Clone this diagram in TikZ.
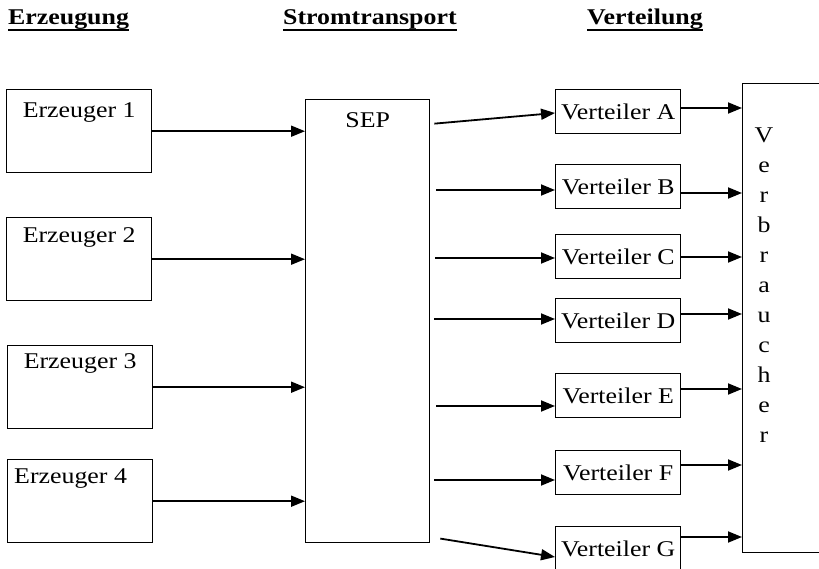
\documentclass[tikz,border=0pt]{standalone}
\usepackage{fontspec}
\setmainfont{Liberation Serif}[FakeStretch=1.15]
\usetikzlibrary{arrows.meta}

\begin{document}
\begin{tikzpicture}[x=1pt, y=-1pt,
    font=\fontsize{22.5}{26}\selectfont,
    >={Triangle[length=14pt,width=11pt]},
    kasten/.style={draw, line width=1.4pt, inner sep=0pt, anchor=north west},
    erzeuger/.style={kasten, minimum width=145pt, minimum height=83pt},
    verteiler/.style={kasten, minimum width=125pt, minimum height=44pt},
    titel/.style={anchor=base west, inner sep=0pt, font=\fontsize{22.5}{26}\selectfont\bfseries},
    every label/.style={inner sep=0pt}]
      \path[use as bounding box, clip] (0,0) rectangle (819,569);
      \node[titel] (t1) at (8,25) {Erzeugung};
      \node[titel] (t2) at (283,25) {Stromtransport};
      \node[titel] (t3) at (587,25) {Verteilung};
      \draw[line width=1.8pt]
        (t1.south west) -- (t1.south east)
        (t2.south west) -- (t2.south east)
        (t3.south west) -- (t3.south east);
      \node[erzeuger, label={[anchor=north, yshift=-13pt]north:Erzeuger 1}] (e1) at (6,89) {};
      \node[erzeuger, label={[anchor=north, yshift=-10pt]north:Erzeuger 2}] (e2) at (6,217) {};
      \node[erzeuger, label={[anchor=north, yshift=-8pt]north:Erzeuger 3}] (e3) at (7,345) {};
      \node[erzeuger, label={[anchor=north west, xshift=7pt, yshift=-9pt]north west:Erzeuger 4}] (e4) at (7,459) {};
      \node[kasten, minimum width=124pt, minimum height=443pt,
        label={[anchor=north, yshift=-13pt]north:SEP}] (sep) at (305,99) {};
      \node[verteiler] (vA) at (555,89) {Verteiler A};
      \node[verteiler] (vB) at (555,164) {Verteiler B};
      \node[verteiler] (vC) at (555,234) {Verteiler C};
      \node[verteiler] (vD) at (555,298) {Verteiler D};
      \node[verteiler] (vE) at (555,373) {Verteiler E};
      \node[verteiler] (vF) at (555,450) {Verteiler F};
      \node[verteiler] (vG) at (555,526) {Verteiler G};
      \node[kasten, minimum width=120pt, minimum height=469pt,
        label={[anchor=north, align=center, font=\fontsize{22.5}{30}\selectfont,
          xshift=22pt, yshift=-45pt]north west:V\\e\\r\\b\\r\\a\\u\\c\\h\\e\\r}] (verbr) at (742,83) {};
      \begin{scope}[->, line width=1.8pt]
        \draw (e1.east) -- (e1.east -| sep.west);
        \draw (e2.east) -- (e2.east -| sep.west);
        \draw (e3.east) -- (e3.east -| sep.west);
        \draw (e4.east) -- (e4.east -| sep.west);
        \draw[shorten <=4pt] (sep.east |- 0,124) -- (vA.west |- 0,113);
        \draw[shorten <=6pt] (sep.east |- 0,190) -- (vB.west |- 0,190);
        \draw[shorten <=5pt] (sep.east |- 0,258) -- (vC.west |- 0,258);
        \draw[shorten <=4pt] (sep.east |- 0,319) -- (vD.west |- 0,319);
        \draw[shorten <=6pt] (sep.east |- 0,406) -- (vE.west |- 0,406);
        \draw[shorten <=4pt] (sep.east |- 0,480) -- (vF.west |- 0,480);
        \draw[shorten <=10pt] (sep.east |- 0,537) -- (vG.west |- 0,557);
        \draw (vA.east |- 0,108) -- (verbr.west |- 0,108);
        \draw (vB.east |- 0,193) -- (verbr.west |- 0,193);
        \draw (vC.east |- 0,257) -- (verbr.west |- 0,257);
        \draw (vD.east |- 0,314) -- (verbr.west |- 0,314);
        \draw (vE.east |- 0,389) -- (verbr.west |- 0,389);
        \draw (vF.east |- 0,465) -- (verbr.west |- 0,465);
        \draw (vG.east |- 0,537) -- (verbr.west |- 0,537);
      \end{scope}
    \end{tikzpicture}
\end{document}
